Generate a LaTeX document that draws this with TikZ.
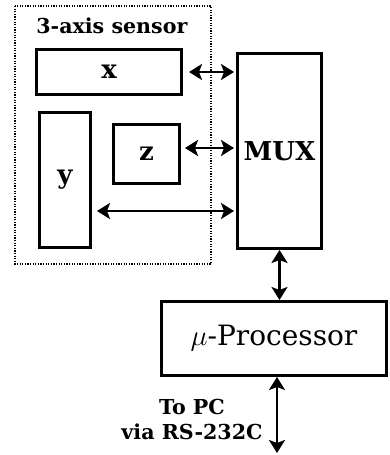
\documentclass[tikz,border=0pt]{standalone}
\usepackage{fontspec}
\setmainfont{DejaVu Serif}
\usetikzlibrary{arrows.meta,positioning,calc}

\begin{document}
\begin{tikzpicture}[x=0.5pt,y=-0.5pt,
    blockbox/.style={draw,line width=1.7pt,inner sep=0pt,
      font=\fontsize{13}{15}\selectfont\bfseries},
    link/.style={{Stealth[length=6.5pt,width=8pt,inset=1.5pt]}-{Stealth[length=6.5pt,width=8pt,inset=1.5pt]},
      line width=1.2pt},
    lbl/.style={font=\fontsize{10.3}{12.5}\selectfont\bfseries},
  ]
    \useasboundingbox (0,0) rectangle (390,455);

    % Sensor group
    \draw[dash pattern=on 0.6pt off 0.7pt,line width=0.7pt] (15,6) rectangle (211,264);
    \node[lbl,anchor=base west,inner sep=0pt] (title) at (36,33) {3-axis sensor};

    \node[blockbox,minimum width=72.3pt,minimum height=22.3pt] (xs) at (109,72) {x};
    \node[blockbox,minimum width=25.3pt,minimum height=67.3pt] (ys) at (65,180) {y};
    \node[blockbox,minimum width=32.8pt,minimum height=29.3pt] (zs) at (146.5,154) {z};

    % Multiplexer and processor
    \node[blockbox,minimum width=41.8pt,minimum height=97.3pt] (mux) at (279.5,151) {MUX};
    \node[blockbox,minimum width=112.3pt,minimum height=36.8pt,
      font=\fontsize{14}{16}\selectfont] (proc) at (274,338.5) {$\mu$-Processor};

    % Links
    \draw[link,shorten <=3pt,shorten >=1pt] (xs.east) -- (xs.east -| mux.west);
    \draw[link,shorten <=2pt,shorten >=1pt] ([yshift=3pt]zs.east) -- ([yshift=3pt]zs.east -| mux.west);
    \draw[link,shorten <=2.5pt,shorten >=1pt] ([yshift=-15.5pt]ys.east) -- ([yshift=-15.5pt]ys.east -| mux.west);
    \draw[link] (mux.south) -- (mux.south |- proc.north);

    \coordinate (pc) at (277,453);
    \draw[link] (pc |- proc.south) -- (pc);
    \node[lbl,align=center] (pclabel) at (192,419) {To PC\\via RS-232C};
\end{tikzpicture}
\end{document}
